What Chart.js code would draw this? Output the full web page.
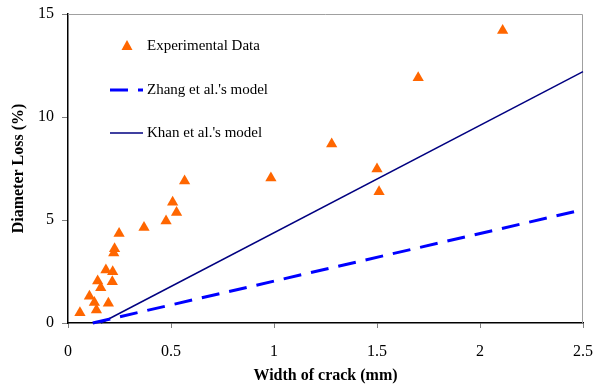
<!DOCTYPE html>
<html>
<head>
<meta charset="utf-8">
<script src="https://cdn.jsdelivr.net/npm/chart.js@4.4.1/dist/chart.umd.min.js"></script>
<style>
  html, body { margin: 0; padding: 0; background: #fff; }
  #wrap { width: 602px; height: 385px; }
</style>
</head>
<body>
<div id="wrap"><canvas id="myChart"></canvas></div>
<script>
// experimental points
var expWidth = [0.058, 0.104, 0.128, 0.138, 0.196, 0.144, 0.159, 0.184, 0.217, 0.215, 0.222, 0.226, 0.248, 0.369, 0.476, 0.508, 0.527, 0.566, 0.985, 1.28, 1.50, 1.51, 1.70, 2.11];
var expLoss  = [0.50, 1.30, 1.00, 0.63, 0.96, 2.04, 1.71, 2.57, 2.49, 2.00, 3.40, 3.60, 4.35, 4.64, 4.95, 5.86, 5.37, 6.89, 7.04, 8.69, 7.48, 6.37, 11.9, 14.2];

// model lines
var zhangWidth = [0.12, 2.5];
var zhangLoss  = [0, 5.5];
var khanWidth  = [0.16, 2.5];
var khanLoss   = [0, 12.2];

var xTicks = [0, 0.5, 1, 1.5, 2, 2.5];
var yTicks = [0, 5, 10, 15];

function pts(xs, ys) {
	return xs.map(function(x, i) { return {x: x, y: ys[i]}; });
}

var serif = "'Liberation Serif', 'Times New Roman', serif";

// legend drawn inside the plot area, no box
var innerLegend = {
	id: 'innerLegend',
	afterDraw: function(chart) {
		var ctx = chart.ctx;
		var rows = [46, 90, 133];
		ctx.save();
		ctx.font = "15px " + serif;
		ctx.textBaseline = 'middle';
		chart.data.datasets.forEach(function(ds, i) {
			var y = rows[i];
			if (ds.showLine === false) {
				ctx.fillStyle = ds.backgroundColor;
				ctx.beginPath();
				ctx.moveTo(127, y - 6);
				ctx.lineTo(132.5, y + 4);
				ctx.lineTo(121.5, y + 4);
				ctx.closePath();
				ctx.fill();
			} else {
				ctx.strokeStyle = ds.borderColor;
				ctx.lineWidth = ds.borderWidth;
				ctx.setLineDash(ds.borderDash || []);
				ctx.beginPath();
				ctx.moveTo(110, y);
				ctx.lineTo(143, y);
				ctx.stroke();
				ctx.setLineDash([]);
			}
			ctx.fillStyle = '#000';
			ctx.fillText(ds.label, 147, y);
		});
		ctx.restore();
	},
	beforeDatasetsDraw: function(chart) {
		var ctx = chart.ctx;
		var a = chart.chartArea;
		ctx.save();
		ctx.strokeStyle = '#a0a0a0';
		ctx.lineWidth = 1;
		ctx.beginPath();
		ctx.moveTo(a.left, a.top + 0.5);
		ctx.lineTo(a.right - 0.5, a.top + 0.5);
		ctx.lineTo(a.right - 0.5, a.bottom);
		ctx.stroke();
		ctx.restore();
	}
};

var ctx = document.getElementById('myChart').getContext('2d');
var myChart = new Chart(ctx, {
	type: 'scatter',
	data: {
		datasets: [{
			label: 'Experimental Data',
			data: pts(expWidth, expLoss),
			showLine: false,
			pointStyle: 'triangle',
			pointRadius: 6.5,
			backgroundColor: '#ff6600',
			borderColor: '#ff6600',
			borderWidth: 0
		}, {
			label: "Zhang et al.'s model",
			data: pts(zhangWidth, zhangLoss),
			showLine: true,
			pointRadius: 0,
			borderColor: '#0000ff',
			borderWidth: 3,
			borderDash: [18, 10]
		}, {
			label: "Khan et al.'s model",
			data: pts(khanWidth, khanLoss),
			showLine: true,
			pointRadius: 0,
			borderColor: '#000080',
			borderWidth: 1.5
		}]
	},
	options: {
		responsive: true,
		maintainAspectRatio: false,
		animation: false,
		clip: false,
		layout: { padding: { top: 14, right: 19, bottom: 0, left: 0 } },
		plugins: {
			legend: { display: false },
			tooltip: { enabled: false }
		},
		scales: {
			x: {
				type: 'linear',
				min: 0,
				max: 2.5,
				afterBuildTicks: function(s) { s.ticks = xTicks.map(function(v) { return {value: v}; }); },
				afterFit: function(s) { s.height = 62; s.paddingLeft = 0; s.paddingRight = 0; },
				border: { color: '#000', width: 1.5 },
				grid: { drawOnChartArea: false, drawTicks: true, tickLength: 5, color: '#808080' },
				ticks: {
					color: '#000',
					font: { family: serif, size: 16 },
					padding: 14,
					maxRotation: 0,
					callback: function(v) { return String(v); }
				},
				title: {
					display: true,
					text: 'Width of crack (mm)',
					color: '#000',
					font: { family: serif, size: 16, weight: 'bold' },
					padding: { top: 0, bottom: 0 }
				}
			},
			y: {
				type: 'linear',
				min: 0,
				max: 15,
				afterBuildTicks: function(s) { s.ticks = yTicks.map(function(v) { return {value: v}; }); },
				afterFit: function(s) { s.width = 68; s.paddingTop = 0; s.paddingBottom = 0; },
				border: { color: '#000', width: 1.5 },
				grid: { drawOnChartArea: false, drawTicks: true, tickLength: 6, color: '#808080' },
				ticks: {
					color: '#000',
					font: { family: serif, size: 16 },
					padding: 8
				},
				title: {
					display: true,
					text: 'Diameter Loss (%)',
					color: '#000',
					font: { family: serif, size: 16, weight: 'bold' },
					padding: { top: 9, bottom: 0 }
				}
			}
		}
	},
	plugins: [innerLegend]
});
</script>
</body>
</html>
